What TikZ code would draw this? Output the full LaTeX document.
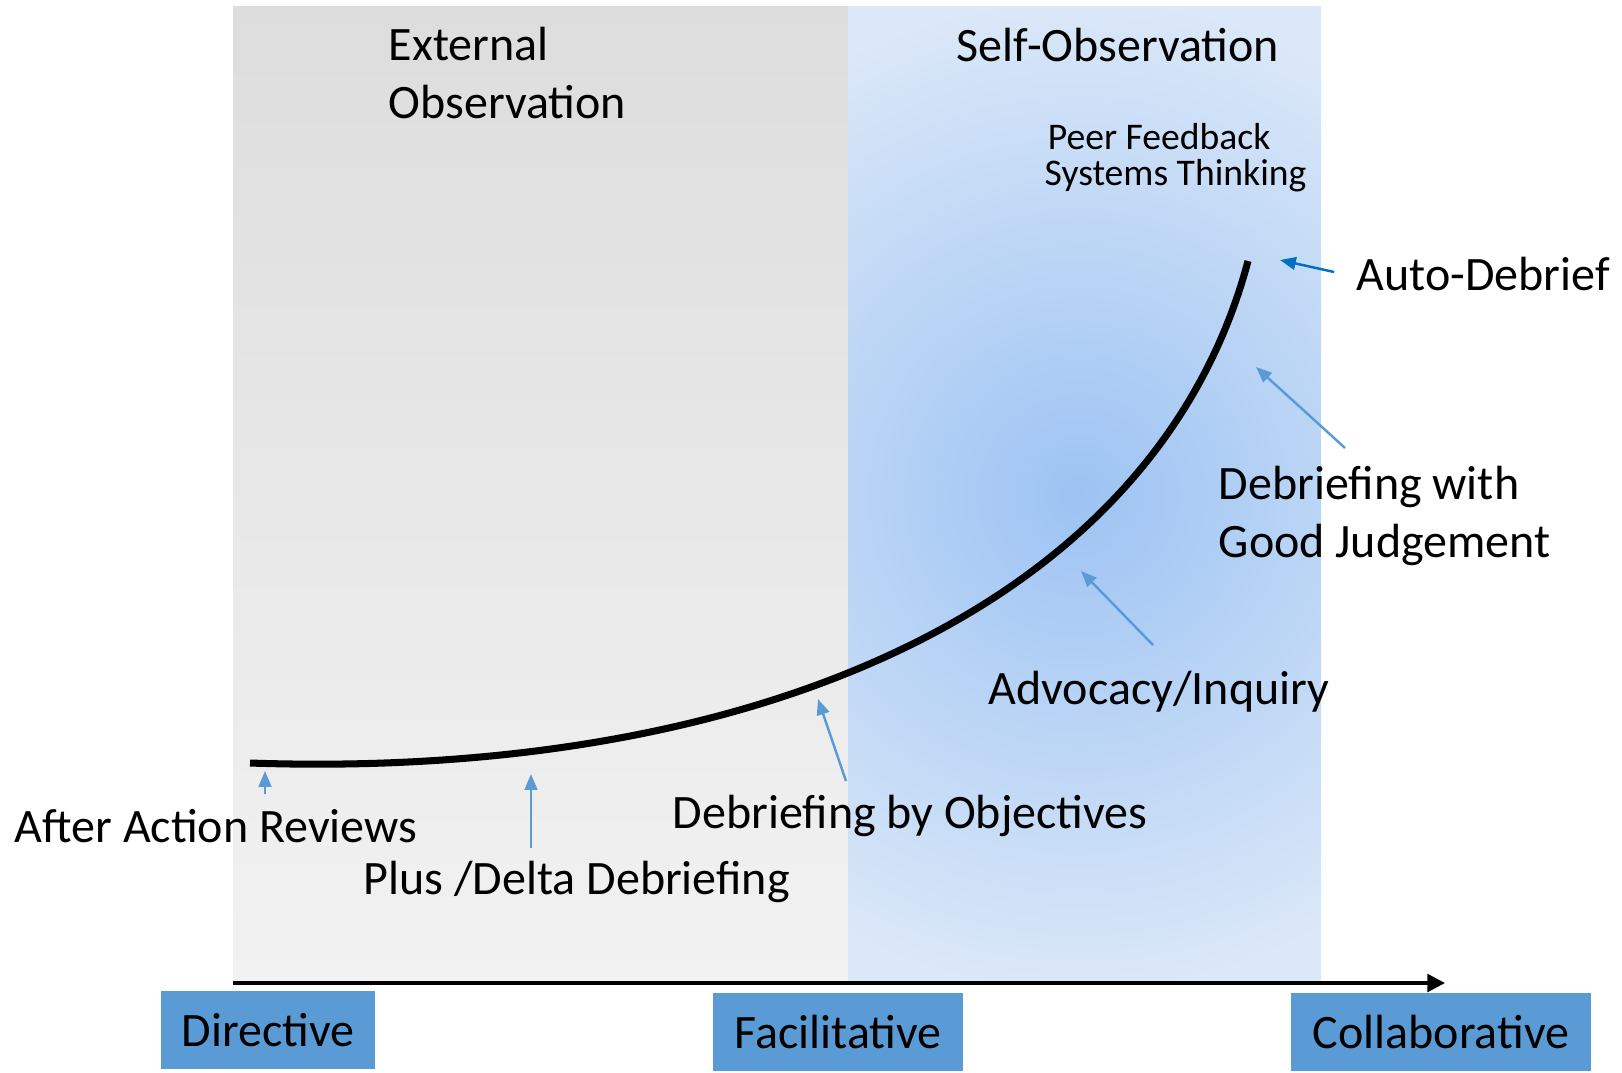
\documentclass[tikz,border=0pt]{standalone}
\usepackage{fontspec}
\setmainfont{Carlito}
\usepackage{xcolor}
\usetikzlibrary{arrows.meta,positioning,calc}

\definecolor{boxblue}{HTML}{5B9BD5}
\definecolor{autoblue}{HTML}{0070C0}
\definecolor{glowblue}{HTML}{9DC3F3}
\definecolor{paleblue}{HTML}{DBE8F8}
\definecolor{greytop}{HTML}{DDDDDD}
\definecolor{greybot}{HTML}{F2F2F2}

\begin{document}
\begin{tikzpicture}[
    x=0.01cm, y=-0.01cm,
    label/.style={anchor=west, inner sep=0pt, font=\fontsize{13.65}{16.5}\selectfont, align=left},
    small/.style={anchor=west, inner sep=0pt, font=\fontsize{10.7}{10.3}\selectfont, align=left},
    style box/.style={rectangle, fill=boxblue, inner sep=0pt, minimum height=0.78cm, font=\fontsize{13.65}{16}\selectfont},
    pointer/.style={draw=boxblue, line width=0.7pt, -{Triangle[length=4.5pt, width=3.6pt]}},
    curve/.style={line width=2pt, black}
]
\useasboundingbox (0,0) rectangle (1622,1072);

% Panels
\shade[top color=greytop, bottom color=greybot] (233,6) rectangle (848,982);
\begin{scope}
  \clip (848,6) rectangle (1321,982);
  \shade[inner color=glowblue, outer color=paleblue] (578,-5) rectangle (1578,995);
\end{scope}

% Axis
\draw[line width=1pt, -{Triangle[length=5pt, width=5pt]}] (233,983) -- (1445,983);

% Style boxes
\node[style box, minimum width=2.14cm] (directive) at (268,1030) {Directive};
\node[style box, minimum width=2.50cm] (facilitative) at (838,1032) {Facilitative};
\node[style box, minimum width=3.00cm] (collaborative) at (1441,1032) {Collaborative};

% Headings
\node[label] (external) at (388,73) {External\\Observation};
\node[label] (selfobs) at (956,45) {Self-Observation};
\node[small] (peer) at (1044,158) {\hspace{0.9pt}Peer Feedback\\Systems Thinking};

% Curve
\draw[curve] (250,763) .. controls (750,780) and (1155,610) .. (1248,261);

% Method labels
\node[label] (auto) at (1356,274) {Auto-Debrief};
\node[label, font=\fontsize{13.65}{16.7}\selectfont] (dgj) at (1218,516) {Debriefing with\\Good Judgement};
\node[label] (advocacy) at (988,692) {Advocacy/Inquiry};
\node[label] (dbo) at (672,816) {Debriefing by Objectives};
\node[label] (aar) at (14,826) {After Action Reviews};
\node[label] (plusdelta) at (363,882) {Plus /Delta Debriefing};

% Arrow ends
\coordinate (aar-tail) at (265,794);
\coordinate (aar-tip) at (265,771);
\coordinate (pd-tail) at (531,848);
\coordinate (pd-tip) at (531,774);
\coordinate (dbo-tail) at (846,781);
\coordinate (dbo-tip) at (818,699);
\coordinate (adv-tail) at (1153,645);
\coordinate (adv-tip) at (1081,571);
\coordinate (dgj-tail) at (1345,448);
\coordinate (dgj-tip) at (1256,367);
\coordinate (auto-tail) at (1334,272);
\coordinate (auto-tip) at (1280,260);

% Arrows
\draw[pointer] (aar-tail) -- (aar-tip);
\draw[pointer] (pd-tail) -- (pd-tip);
\draw[pointer] (dbo-tail) -- (dbo-tip);
\draw[pointer] (adv-tail) -- (adv-tip);
\draw[pointer] (dgj-tail) -- (dgj-tip);
\draw[pointer, draw=autoblue] (auto-tail) -- (auto-tip);

\end{tikzpicture}
\end{document}
